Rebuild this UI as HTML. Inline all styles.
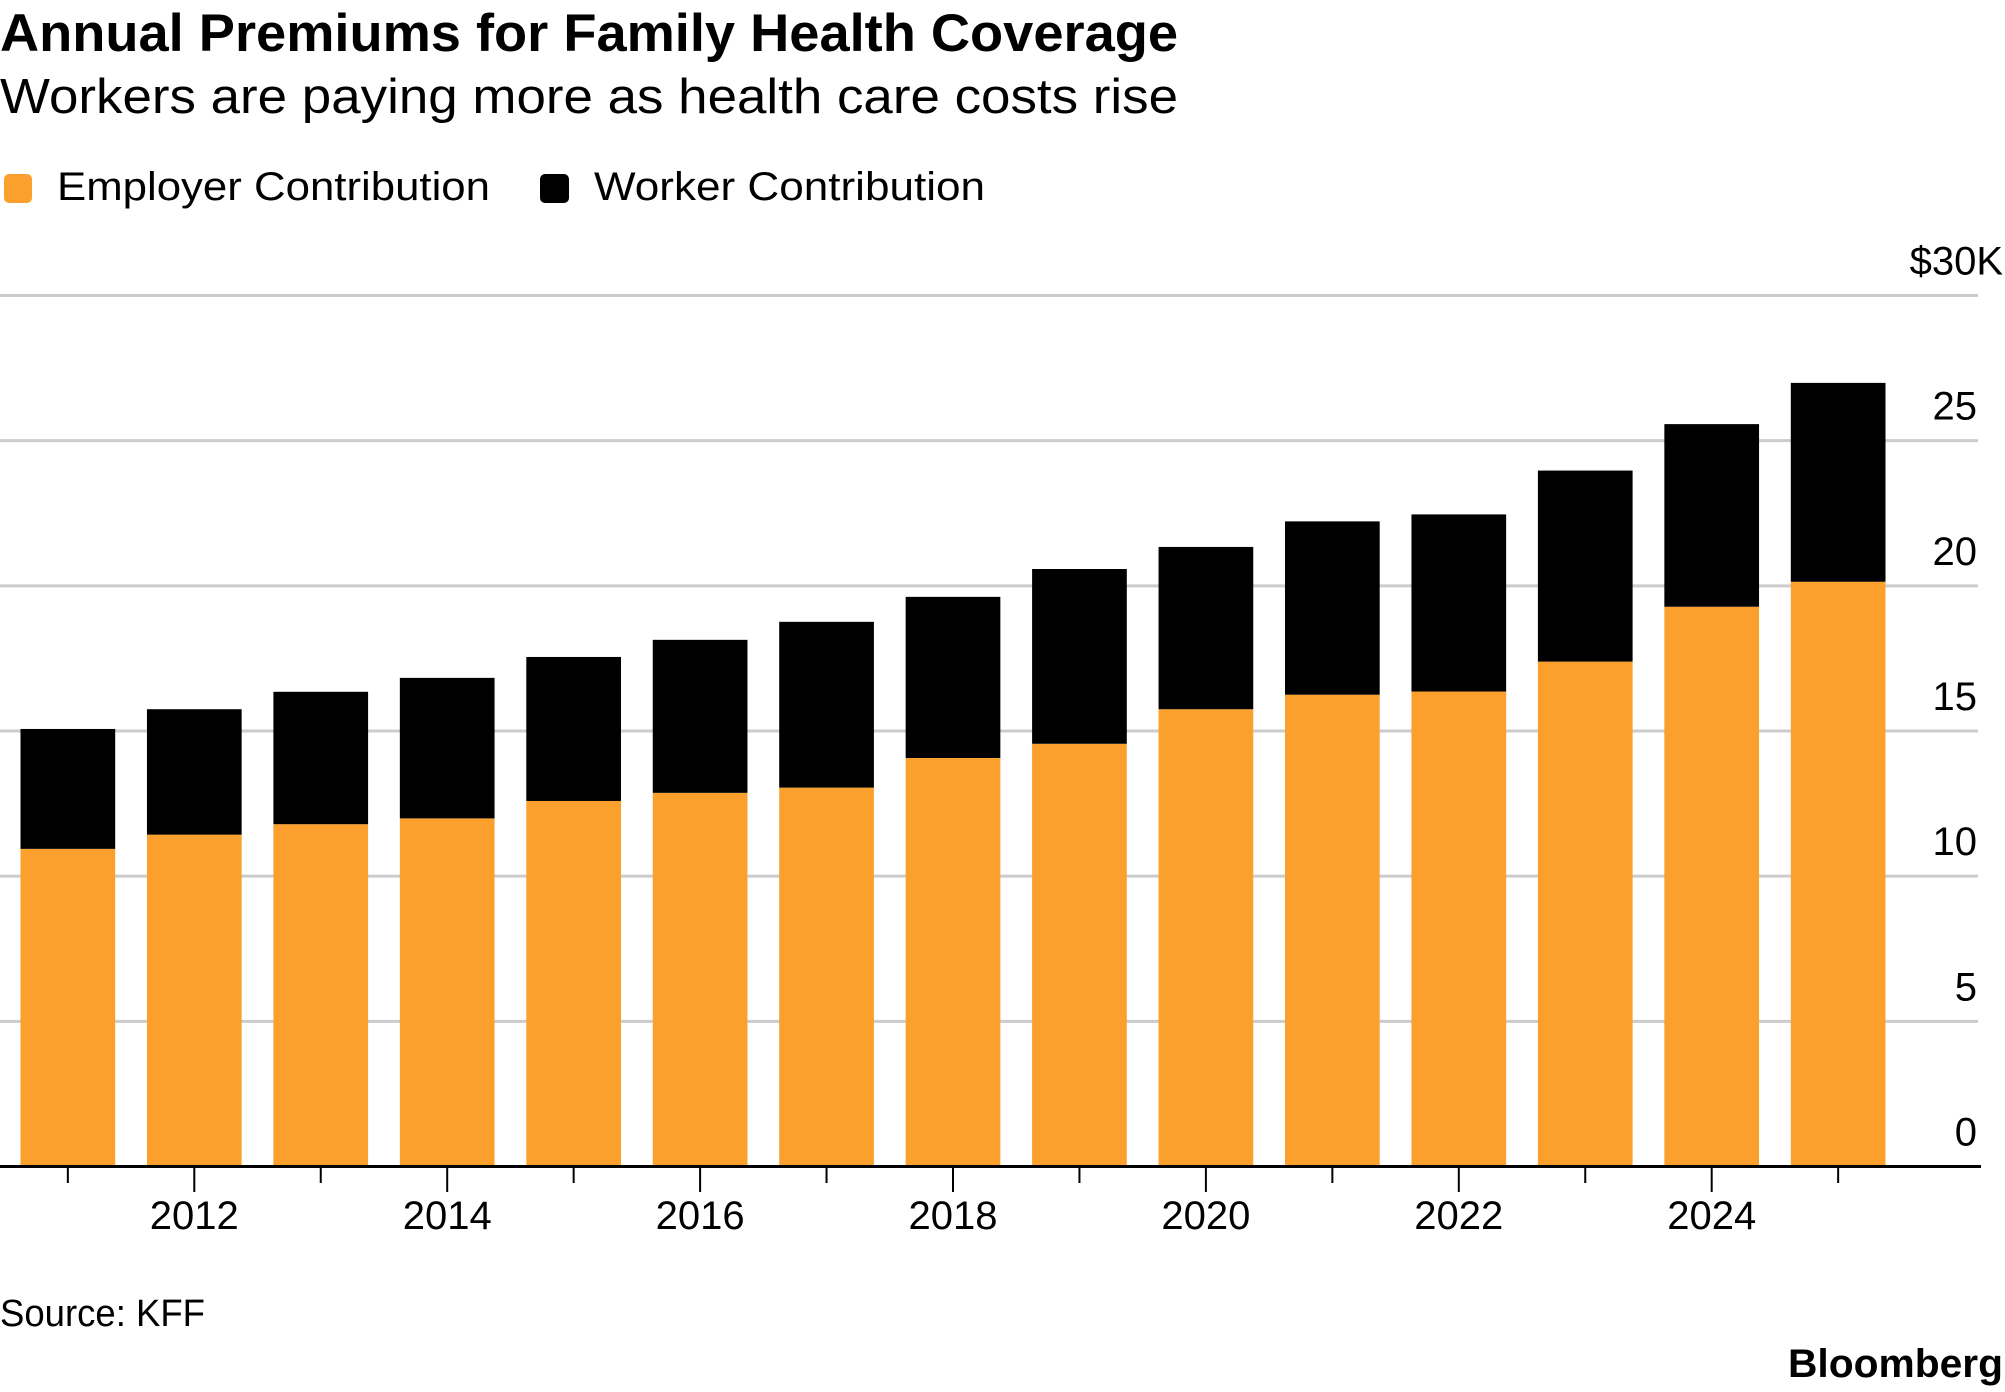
<!DOCTYPE html>
<html><head><meta charset="utf-8"><style>
html,body{margin:0;padding:0;background:#fff;}
svg{display:block;font-family:"Liberation Sans",sans-serif;}
</style></head><body>
<svg id="chart" width="2005" height="1392" viewBox="0 0 2005 1392" xmlns="http://www.w3.org/2000/svg">
<text x="0" y="51" font-size="53" font-weight="bold" textLength="1178" lengthAdjust="spacingAndGlyphs">Annual Premiums for Family Health Coverage</text>
<text x="0" y="113" font-size="49" textLength="1178" lengthAdjust="spacingAndGlyphs">Workers are paying more as health care costs rise</text>
<g>
<rect x="4" y="174" width="28" height="29" rx="5" fill="#fba02d"/>
<text x="57" y="200" font-size="40" textLength="433" lengthAdjust="spacingAndGlyphs">Employer Contribution</text>
<rect x="540" y="174" width="29" height="29" rx="5" fill="#000"/>
<text x="594" y="200" font-size="40" textLength="391" lengthAdjust="spacingAndGlyphs">Worker Contribution</text>
</g>
<g id="grid"></g>
<g id="bars"></g>
<g id="axis"></g>
<text x="0" y="1326" font-size="38" textLength="205" lengthAdjust="spacingAndGlyphs">Source: KFF</text>
<text x="2003" y="1377" font-size="40" font-weight="bold" text-anchor="end" textLength="215" lengthAdjust="spacingAndGlyphs">Bloomberg</text>
</svg>
<script>
const years = [2011,2012,2013,2014,2015,2016,2017,2018,2019,2020,2021,2022,2023,2024,2025];
const employer = [10.94,11.43,11.79,11.99,12.59,12.87,13.05,14.07,14.56,15.75,16.25,16.36,17.39,19.28,20.14];
const worker = [4.13,4.32,4.56,4.84,4.96,5.27,5.71,5.55,6.02,5.59,5.97,6.10,6.58,6.29,6.85];
const yTicks = [0,5,10,15,20,25,30];
const yTickLabels = ['0','5','10','15','20','25','$30K'];
const xLabelYears = [2012,2014,2016,2018,2020,2022,2024];

const NS='http://www.w3.org/2000/svg';
const y0=1166.5, yPer=(1166.5-295.5)/30;
const yScale=v=>y0-v*yPer;
const x0=20.5, pitch=126.45, bw=94.7;
const xCenter=i=>x0+i*pitch+bw/2;
function mk(tag,attrs,parent){const e=document.createElementNS(NS,tag);for(const k in attrs)e.setAttribute(k,attrs[k]);parent.appendChild(e);return e;}
const grid=document.getElementById('grid'),bars=document.getElementById('bars'),axis=document.getElementById('axis');
yTicks.forEach((t,i)=>{
  if(t>0){const l=mk('line',{x1:0,x2:1978,y1:yScale(t),y2:yScale(t),stroke:'#cccccc','stroke-width':3},grid);
  
  }
  const isTop=i===yTicks.length-1;
  const tx=mk('text',{x:isTop?2003:1977,y:yScale(t)-21,'font-size':40,'text-anchor':'end'},axis);
  tx.textContent=yTickLabels[i];
  
  
});
years.forEach((yr,i)=>{
  const x=x0+i*pitch;
  const e=mk('rect',{x:x,width:bw,y:yScale(employer[i]),height:yScale(0)-yScale(employer[i]),fill:'#fba02d'},bars);
  
  
  const tot=employer[i]+worker[i];
  const w=mk('rect',{x:x,width:bw,y:yScale(tot),height:yScale(employer[i])-yScale(tot),fill:'#000'},bars);
  
  
  const major=xLabelYears.includes(yr);
  const tk=mk('line',{x1:xCenter(i),x2:xCenter(i),y1:1166,y2:major?1192:1183,stroke:'#000','stroke-width':2},axis);
  
  
  if(major){const t=mk('text',{x:xCenter(i),y:1229,'font-size':40,'text-anchor':'middle'},axis);
    t.textContent=String(yr);
    
    }
});
const ax=mk('line',{x1:0,x2:1981,y1:1166.5,y2:1166.5,stroke:'#000','stroke-width':3},axis);


</script>
</body></html>
